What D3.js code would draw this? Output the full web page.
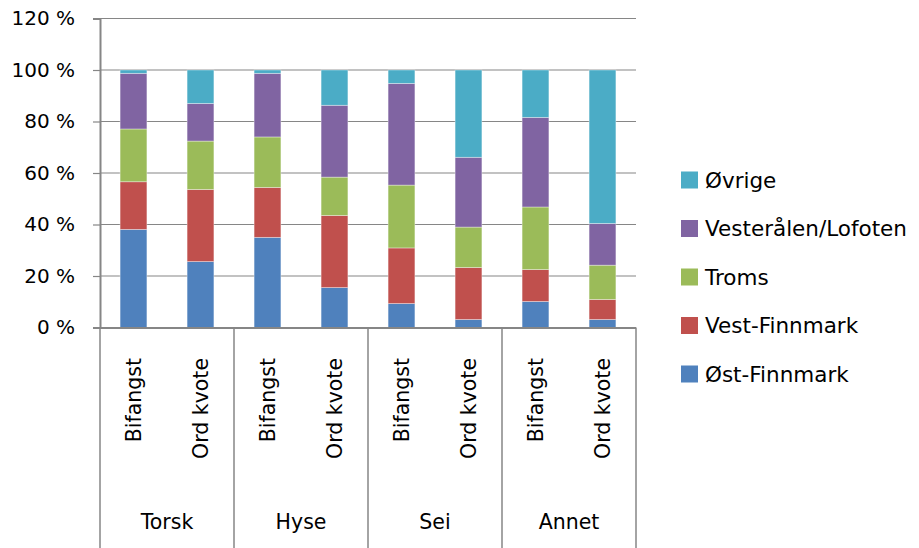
<!DOCTYPE html>
<html><head><meta charset="utf-8">
<script src="https://cdn.jsdelivr.net/npm/d3@7"></script>
<style>body{margin:0;background:#fff}svg{display:block}text{font-family:"DejaVu Sans",sans-serif;fill:#000}</style>
</head><body><svg id="c" width="919" height="548"></svg>
<script>
const groups = ["Torsk","Hyse","Sei","Annet"];
const subs = ["Bifangst","Ord kvote"];
const seriesNames = ["Øst-Finnmark","Vest-Finnmark","Troms","Vesterålen/Lofoten","Øvrige"];
const colors = ["#4F81BD","#C0504D","#9BBB59","#8064A2","#4BACC6"];
// values per bar (Torsk Bifangst, Torsk Ord kvote, Hyse ..., Sei ..., Annet ...)
const ostFinnmark  = [38.1, 25.6, 35.0, 15.5,  9.3,  3.1, 10.1,  3.1];
const vestFinnmark = [18.5, 28.0, 19.4, 28.0, 21.6, 20.2, 12.4,  7.8];
const troms        = [20.5, 18.8, 19.6, 14.9, 24.4, 15.7, 24.3, 13.3];
const vesteralen   = [21.6, 14.6, 24.7, 27.9, 39.5, 27.1, 34.8, 16.2];
const ovrige       = [ 1.3, 13.0,  1.3, 13.7,  5.2, 33.9, 18.4, 59.6];
const yTicks = [0,20,40,60,80,100,120];

const seriesVals = [ostFinnmark, vestFinnmark, troms, vesteralen, ovrige];
const bars = [];
groups.forEach((g,gi)=>subs.forEach((s,si)=>{
  const i = gi*2+si; const row = {key:g+"|"+s, group:g, sub:s};
  seriesNames.forEach((n,k)=>row[n]=seriesVals[k][i]); bars.push(row);
}));

const svg = d3.select("#c");
const L=100, R=636, T=18.5, B=327.5;
const x = d3.scaleBand().domain(bars.map(d=>d.key)).range([L,R]).paddingInner(0.6).paddingOuter(0.3);
const y = d3.scaleLinear().domain([0,120]).range([B,T]);
const grey = "#868686";

// gridlines
svg.append("g").selectAll("line").data(yTicks.filter(t=>t>0)).join("line")
  .attr("x1",L).attr("x2",R).attr("y1",d=>y(d)).attr("y2",d=>y(d))
  .attr("stroke",grey).attr("stroke-width",1.2);

// y axis
const ya = svg.append("g").attr("transform",`translate(${L},0)`)
  .call(d3.axisLeft(y).tickValues(yTicks).tickSize(7).tickPadding(18).tickFormat(d=>d+" %"));
ya.select(".domain").attr("stroke",grey).attr("stroke-width",2);
ya.selectAll(".tick line").attr("stroke",grey).attr("stroke-width",1.2);
ya.selectAll(".tick text").style("font-size","20px").attr("fill","#000").attr("font-family","DejaVu Sans");

// stacked bars
const stack = d3.stack().keys(seriesNames)(bars);
svg.append("g").selectAll("g").data(stack).join("g")
  .attr("fill",(d,i)=>colors[i])
  .selectAll("rect").data(d=>d).join("rect")
  .attr("x",d=>x(d.data.key)).attr("width",x.bandwidth())
  .attr("y",d=>y(d[1])).attr("height",d=>y(d[0])-y(d[1]))
  .attr("stroke","rgba(255,255,255,0.45)").attr("stroke-width",0.8);

// x axis line
svg.append("line").attr("x1",L).attr("x2",R).attr("y1",B+0.5).attr("y2",B+0.5)
  .attr("stroke",grey).attr("stroke-width",2);

// group separators
const step = x.step();
const sepX = d3.range(groups.length+1).map(i=>L + i*2*step);
svg.append("g").selectAll("line").data(sepX).join("line")
  .attr("x1",d=>d).attr("x2",d=>d).attr("y1",B).attr("y2",548)
  .attr("stroke",grey).attr("stroke-width",1.5);

// sub labels (rotated)
svg.append("g").selectAll("text").data(bars).join("text")
  .attr("transform",d=>`translate(${x(d.key)+x.bandwidth()/2},358) rotate(-90)`)
  .attr("text-anchor","end").attr("dy","0.35em")
  .style("font-size","20.5px").text(d=>d.sub);

// group labels
svg.append("g").selectAll("text").data(groups).join("text")
  .attr("x",(d,i)=>(sepX[i]+sepX[i+1])/2).attr("y",522).attr("dy","0.35em")
  .attr("text-anchor","middle").style("font-size","20.5px").text(d=>d);

// legend
const legOrder = seriesNames.map((n,i)=>({n,c:colors[i]})).reverse();
const lg = svg.append("g").selectAll("g").data(legOrder).join("g")
  .attr("transform",(d,i)=>`translate(681,${180 + i*48.5})`);
lg.append("rect").attr("x",0).attr("y",-8.5).attr("width",17).attr("height",17).attr("fill",d=>d.c);
lg.append("text").attr("x",24).attr("y",0).attr("dy","0.35em").style("font-size","21.5px").text(d=>d.n);
</script></body></html>
